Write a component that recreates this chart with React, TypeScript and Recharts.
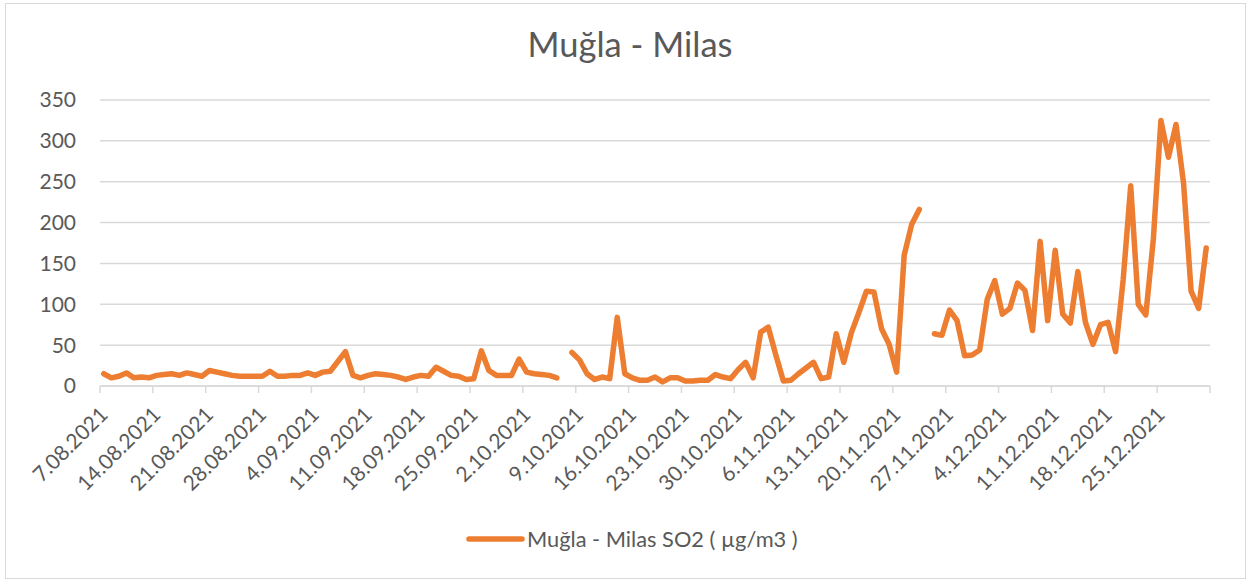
import React from "react";
import {
  LineChart,
  Line,
  XAxis,
  YAxis,
  CartesianGrid,
} from "recharts";

// daily SO2 values from 7.08.2021 to 31.12.2021 (null = no measurement)
const so2Values: (number | null)[] = [
  15, 10, 12, 16, 10, 11, 10, 13, 14, 15,
  13, 16, 14, 12, 19, 17, 15, 13, 12, 12,
  12, 12, 18, 12, 12, 13, 13, 16, 13, 17,
  18, 30, 42, 13, 10, 13, 15, 14, 13, 11,
  8, 11, 13, 12, 23, 18, 13, 12, 8, 9,
  43, 19, 13, 13, 13, 33, 17, 15, 14, 13,
  10, null, 41, 32, 15, 8, 11, 9, 84, 15,
  10, 7, 7, 11, 5, 10, 10, 6, 6, 7,
  7, 14, 11, 9, 20, 29, 10, 66, 72, 38,
  6, 7, 15, 22, 29, 9, 11, 64, 29, 65,
  90, 116, 115, 70, 51, 17, 160, 198, 216, null,
  64, 62, 93, 80, 37, 38, 44, 106, 129, 88,
  95, 126, 117, 68, 177, 80, 166, 88, 77, 140,
  78, 51, 75, 78, 42, 130, 245, 100, 87, 180,
  325, 280, 320, 248, 116, 95, 169,
];

// weekly axis labels
const weekLabels = [
  "7.08.2021", "14.08.2021", "21.08.2021", "28.08.2021", "4.09.2021",
  "11.09.2021", "18.09.2021", "25.09.2021", "2.10.2021", "9.10.2021",
  "16.10.2021", "23.10.2021", "30.10.2021", "6.11.2021", "13.11.2021",
  "20.11.2021", "27.11.2021", "4.12.2021", "11.12.2021", "18.12.2021",
  "25.12.2021",
];

const yTicks = [0, 50, 100, 150, 200, 250, 300, 350];

const TITLE = "Muğla - Milas";
const SERIES_NAME = "Muğla - Milas SO2 ( µg/m3 )";

const ORANGE = "#ED7D31";
const GRID = "#D9D9D9";
const TEXT = "#595959";
const FONT = "Lato, 'Open Sans', sans-serif";

// each day sits in the middle of its own slot on the date axis
const data = so2Values.map((v, i) => ({ x: i + 0.5, so2: v }));
const dayCount = so2Values.length;
const xTicks = Array.from({ length: Math.ceil(dayCount / 7) + 1 }, (_, i) => i * 7);

const DateTick = (props: any) => {
  const { x, y, payload } = props;
  const label = weekLabels[payload.value / 7] ?? "";
  return (
    <g transform={`translate(${x + 9},${y + 23})`}>
      <text
        transform="rotate(-45)"
        textAnchor="end"
        fill={TEXT}
        fontSize={21}
        fontFamily={FONT}
      >
        {label}
      </text>
    </g>
  );
};

export default function App() {
  return (
    <div style={{ position: "relative", width: 1250, height: 581, background: "#fff" }}>
      <style>{"body{margin:0}"}</style>
      <div
        style={{
          position: "absolute",
          left: 5,
          top: 3,
          width: 1239,
          height: 574,
          border: `1px solid ${GRID}`,
        }}
      />
      <div style={{ position: "absolute", left: 0, top: 0 }}>
        <LineChart
          width={1250}
          height={581}
          data={data}
          margin={{ top: 100, right: 40, bottom: 45, left: 0 }}
        >
          <CartesianGrid vertical={false} stroke={GRID} strokeWidth={1.5} />
          <XAxis
            dataKey="x"
            type="number"
            domain={[0, dayCount]}
            ticks={xTicks}
            interval={0}
            height={150}
            axisLine={{ stroke: GRID, strokeWidth: 1.5 }}
            tickLine={{ stroke: GRID, strokeWidth: 1.5 }}
            tickSize={7}
            tickMargin={0}
            tick={<DateTick />}
          />
          <YAxis
            domain={[0, 350]}
            ticks={yTicks}
            interval={0}
            width={100}
            axisLine={false}
            tickLine={false}
            tickSize={0}
            tickMargin={24}
            tick={{ fill: TEXT, fontSize: 21, fontFamily: FONT }}
          />
          <Line
            type="linear"
            dataKey="so2"
            name={SERIES_NAME}
            stroke={ORANGE}
            strokeWidth={5.5}
            strokeLinejoin="round"
            strokeLinecap="round"
            dot={false}
            activeDot={false}
            connectNulls={false}
            isAnimationActive={false}
          />
        </LineChart>
      </div>
      <svg
        width={1250}
        height={581}
        style={{ position: "absolute", left: 0, top: 0, pointerEvents: "none" }}
      >
        <text x={630} y={57} textAnchor="middle" fill={TEXT} fontSize={34.5} fontFamily={FONT}>
          {TITLE}
        </text>
        <line
          x1={469}
          y1={539}
          x2={522}
          y2={539}
          stroke={ORANGE}
          strokeWidth={5.5}
          strokeLinecap="round"
        />
        <text x={527} y={547} fill={TEXT} fontSize={21.8} fontFamily={FONT}>
          {SERIES_NAME}
        </text>
      </svg>
    </div>
  );
}
